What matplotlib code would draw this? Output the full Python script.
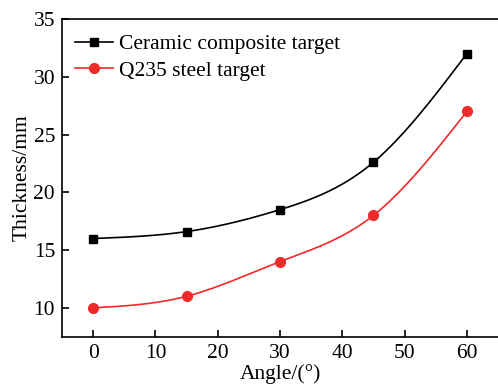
import numpy as np
import matplotlib
matplotlib.use("Agg")
import matplotlib.pyplot as plt

plt.rcParams['font.family'] = ['Liberation Serif', 'DejaVu Serif']

angle = [0, 15, 30, 45, 60]
ceramic = [16.0, 16.6, 18.5, 22.6, 32.0]
steel = [10.0, 11.0, 14.0, 18.0, 27.0]


def spline(x, y, n=200):
    # natural cubic spline through the points, for a smooth connecting line
    x = np.asarray(x, float)
    y = np.asarray(y, float)
    k = len(x)
    h = np.diff(x)
    A = np.zeros((k, k))
    b = np.zeros(k)
    A[0, 0] = A[-1, -1] = 1
    for i in range(1, k - 1):
        A[i, i - 1] = h[i - 1]
        A[i, i] = 2 * (h[i - 1] + h[i])
        A[i, i + 1] = h[i]
        b[i] = 6 * ((y[i + 1] - y[i]) / h[i] - (y[i] - y[i - 1]) / h[i - 1])
    m = np.linalg.solve(A, b)
    xs = np.linspace(x[0], x[-1], n)
    idx = np.clip(np.searchsorted(x, xs) - 1, 0, k - 2)
    t0 = xs - x[idx]
    t1 = x[idx + 1] - xs
    hi = h[idx]
    ys = (m[idx] * t1 ** 3 / (6 * hi) + m[idx + 1] * t0 ** 3 / (6 * hi)
          + (y[idx] / hi - m[idx] * hi / 6) * t1
          + (y[idx + 1] / hi - m[idx + 1] * hi / 6) * t0)
    return xs, ys


fig = plt.figure(figsize=(4.98, 3.92), dpi=100)
ax = fig.add_axes([0.1245, 0.141, 0.8755, 0.8105])

for y, color, marker, ms, label in [(ceramic, 'black', 's', 6, 'Ceramic composite target'),
                                    (steel, '#ee2a2a', 'o', 7, 'Q235 steel target')]:
    xs, ys = spline(angle, y)
    ax.plot(xs, ys, color=color, lw=1.2)
    ax.plot(angle, y, linestyle='none', marker=marker, color=color, ms=ms)
    ax.plot([], [], color=color, lw=1.2, marker=marker, ms=ms, label=label)

ax.set_xlim(-5, 65)
ax.set_ylim(7.5, 35)
ax.set_xticks([0, 10, 20, 30, 40, 50, 60])
ax.set_yticks([10, 15, 20, 25, 30, 35])
ax.tick_params(direction='in', length=5, width=1.2, labelsize=15.5, top=False, right=False, pad=5)
for s in ax.spines.values():
    s.set_linewidth(1.2)
ax.spines['right'].set_visible(False)

ax.set_xlabel('Angle/(°)', fontsize=15.5, labelpad=1)
ax.set_ylabel('Thickness/mm', fontsize=15.5, labelpad=1)
ax.legend(loc='upper left', frameon=False, fontsize=15.5, handlelength=1.75,
          handletextpad=0.3, labelspacing=0.3, borderaxespad=0.3,
          bbox_to_anchor=(-0.005, 1.0))

fig.savefig('out.png', dpi=100)
